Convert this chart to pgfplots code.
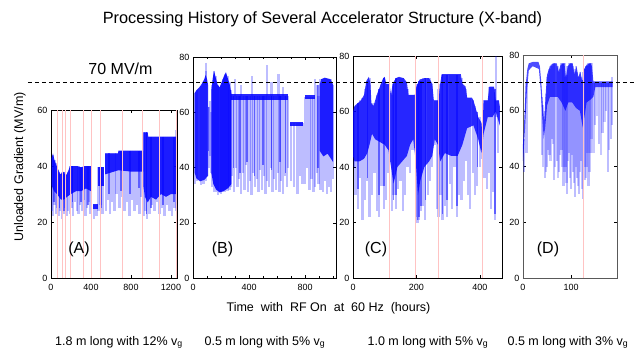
\documentclass[border=0pt]{standalone}
\usepackage{fontspec}
\setmainfont{Liberation Sans}
\usepackage{pgfplots}
\pgfplotsset{compat=1.18}
\definecolor{redline}{RGB}{255,195,195}
\pgfplotsset{
  panel/.style={
    scale only axis, anchor=south west, ymin=0, xmin=0,
    axis line style={black, line width=0.8pt},
    tick style={black, line width=0.5pt},
    major tick length=3pt, minor tick length=2pt,
    tick label style={font=\fontsize{9}{10}\selectfont},
    xticklabel style={yshift=-3pt},
    /pgf/number format/assume math mode=true,
    /pgf/number format/1000 sep={},
  },
  dense/.style={fill=blue, draw=none, fill opacity=#1},
  dense/.default=0.85,
  spk/.style={quiver={u=0, v=\thisrow{b}-\thisrow{t}}, -, draw=blue, line width=2.3pt, draw opacity=#1},
  spk/.default=0.26,
  spkm/.style={quiver={u=0, v=\thisrow{b}-\thisrow{t}}, -, draw=blue, line width=1.5pt, draw opacity=#1},
  spkm/.default=0.5,
  red lines/.style={ycomb, draw=redline, line width=0.6pt, mark=none},
}
\begin{document}
\begin{tikzpicture}
\useasboundingbox (0pt,0pt) rectangle (640pt,349pt);

% ---------------- Panel A ----------------
\begin{axis}[panel, at={(51pt,71pt)}, width=126pt, height=168pt,
  xmax=1260, ymax=60, xtick={0,400,800,1200}, ytick={0,20,40,60}]
\addplot[dense] coordinates {(7,43) (20,44.5) (35,42) (57,40) (75,38.5) (95,37) (120,38) (150,36.5) (175,38.5) (190,40) (260,40) (300,39.5) (340,40) (400,40)
  (400,31) (350,32) (300,31) (250,31) (200,30) (160,29) (130,28) (100,28) (60,30) (30,31) (7,33)} -- cycle;
\addplot[dense] coordinates {(420,26.5) (467,26.5) (467,24.5) (420,24.5)} -- cycle;
\addplot[dense] coordinates {(467,39.5) (533,39.5) (533,33) (467,33)} -- cycle;
\addplot[dense] coordinates {(540,44.5) (670,44.5) (675,45.5) (923,45.5) (923,38) (800,38) (675,38.5) (540,37)} -- cycle;
\addplot[dense] coordinates {(923,52) (967,52) (972,50.5) (1250,50.5) (1257,53) (1257,30) (1200,30) (1150,29) (1100,30) (1050,28) (1000,29) (967,27) (940,29) (923,33)} -- cycle;
\addplot[spkm] table {
x t b
30 42 27
85 37 25
130 38 24
215 40 27
300 39.5 27
370 40 26
505 39.5 25
580 44.5 30
700 45.5 31
790 45.5 30
880 45.5 32
955 52 23
1000 50.5 25
1120 50.5 26
1230 50.5 27
};
\addplot[spk] table {
x t b
10 43 24
22 44 22
35 42 26
48 41 23
62 40 25
78 38 22
92 37 24
108 38 21
125 38 23
140 37 25
158 37 22
172 38 24
190 40 23
205 40 25
222 40 22
240 40 27
258 40 24
275 40 23
292 39.5 26
310 39.5 24
328 40 28
345 40 22
362 40 25
380 40 27
395 40 23
430 26 21
455 26 22
475 39.5 24
495 39.5 26
515 39.5 23
548 44.5 24
570 44.5 28
590 44.5 23
612 44.5 27
635 44.5 24
655 44.5 30
685 45.5 25
710 45.5 29
735 45.5 24
760 45.5 27
785 45.5 22
810 45.5 28
835 45.5 24
860 45.5 26
885 45.5 23
905 45.5 29
930 52 22
945 52 24
960 52 21
985 50.5 23
1010 50.5 26
1035 50.5 24
1060 50.5 27
1085 50.5 23
1110 50.5 25
1135 50.5 22
1160 50.5 26
1185 50.5 24
1210 50.5 22
1235 50.5 25
1255 53 24
};
\addplot[red lines] coordinates {(65,60) (117,60) (140,60) (197,60) (320,60) (405,60) (497,60) (717,60) (917,60) (1082,60) (1252,60)};
\end{axis}

% ---------------- Panel B ----------------
\begin{axis}[panel, at={(193pt,71pt)}, width=143pt, height=221pt,
  xmax=1020, ymax=80, xtick={0,400,800}, minor xtick={100,200,300,500,600,700,900,1000}, ytick={0,20,40,60,80}]
\addplot[dense] coordinates {(12,67) (25,68) (45,69) (65,70.5) (80,72) (90,73.5) (100,72) (107,70) (107,37) (80,35.5) (50,35) (25,36) (12,38)} -- cycle;
\addplot[dense=0.9] coordinates {(131,68) (140,72) (150,75) (160,73) (175,70) (190,69) (205,71) (220,73) (235,74.5) (250,72) (262,70) (273,67)
  (273,34) (250,32.5) (220,31.5) (190,31) (165,32) (145,34) (131,38)} -- cycle;
\addplot[dense] coordinates {(273,66.5) (678,66.5) (678,64.4) (273,64.4)} -- cycle;
\addplot[dense] coordinates {(690,56.6) (785,56.6) (785,55.2) (690,55.2)} -- cycle;
\addplot[dense] coordinates {(797,66.3) (868,66.3) (868,64.8) (797,64.8)} -- cycle;
\addplot[dense] coordinates {(904,70) (915,72) (940,72.5) (980,72) (999,70) (999,42) (960,45) (930,44) (904,46)} -- cycle;
\addplot[spkm] table {
x t b
290 66 40
335 66 38
385 66 42
440 66 37
500 66 41
560 66 39
620 66 42
660 66 38
112 62 46
890 70 40
};
\addplot[spk] table {
x t b
15 67 34
30 68 35
55 69.5 33.5
75 71 34
92 78 70
95 75 35
112 62 40
120 64 44
127 60 38
135 70 33
150 75 31
165 73 31
180 70 30
200 70 30.5
215 72 31
230 74 31
245 73 31.5
260 71 32
270 68 33
280 66 37
292 66 31
305 66 40
318 66 33
330 66 36
342 66 30.5
355 66 38
368 66 32
380 66 41
393 66 31
405 66 35
418 66 30
430 66 38
443 66 33
455 66 36
468 66 31
480 66 39
493 66 32
505 66 37
518 66 30.5
530 66 35
543 66 33
555 66 40
568 66 31
580 66 36
593 66 32
605 66 38
618 66 31
630 66 35
643 66 30.5
655 66 37
668 66 33
676 66 40
300 66 72
340 66 70
420 66 73
530 66 77
560 66 71
610 66 74
640 66 69
700 56 35
720 56 33
745 56 30.5
765 56 37
780 56 34
800 65.5 34
815 65.5 40
830 65.5 32
845 65.5 36
860 65.5 31
872 72 33
885 70 38
895 66 34
910 72 32
925 72 31
940 72.5 35
955 72 30.5
970 72 33
985 72 31
998 70 36
};
\end{axis}

% ---------------- Panel C ----------------
\begin{axis}[panel, at={(353pt,71pt)}, width=149pt, height=222pt,
  xmax=470, ymax=80, xtick={0,200,400}, ytick={0,20,40,60,80}]
\addplot[dense=0.8] coordinates {(0,60) (5,62) (15,63) (25,64) (35,66) (42,71) (50,72.5) (55,70) (58,63) (65,62) (75,66) (85,69) (95,72) (100,72.5) (105,70) (115,70) (120,66) (125,70) (135,72) (145,72.5) (160,72) (170,70.5) (175,66) (195,66) (200,69) (210,71.5) (225,72) (240,72) (250,70) (255,64) (270,64) (275,70) (280,73.5) (340,73.5) (345,70) (355,69) (360,65) (375,65) (380,64) (390,60) (395,58) (405,56) (408,52) (412,64) (425,64) (430,69) (445,69) (450,64) (460,64) (463,62)
 (463,55) (450,60) (440,58) (425,58) (412,52) (405,45) (395,50) (380,55) (360,54) (345,48) (330,44) (310,44) (290,45) (275,42) (268,48) (258,50) (250,44) (240,42) (225,40) (212,35) (205,30) (198,42) (190,50) (180,48) (170,44) (155,42) (140,40) (128,34) (120,40) (112,46) (100,48) (85,49) (70,50) (60,52) (52,48) (45,45) (35,43) (20,42) (5,42) (0,44)} -- cycle;
\addplot[spkm] table {
x t b
15 63 32
45 71 36
82 68 30
97 72 33
128 70 28
136 72 30
203 70 21
208 71 22
214 71 26
228 72 28
270 68 25
282 73 23
297 73 28
328 73 26
392 60 40
448 68 23
};
\addplot[spk] table {
x t b
3 60 40
8 62 30
15 63 25
22 64 36
30 65 21
38 68 28
45 71 35
52 72 22
60 63 30
68 63 38
75 66 24
82 68 22
90 70 33
97 72 25
105 70 28
112 70 38
122 66 24
128 70 30
136 72 25
142 72 32
150 72 35
158 72 24
165 71 30
172 68 40
180 66 38
188 66 46
198 68 22
203 70 20
208 71 21
214 71 24
220 72 26
228 72 21
236 72 30
242 72 35
250 70 40
258 64 48
266 64 25
270 68 22
276 70 30
282 73 21
290 73 26
297 73 22
305 73 34
312 73 25
320 73 40
328 73 22
335 73 30
342 72 28
350 69 35
357 68 42
363 65 30
370 65 25
378 64 38
385 62 30
392 60 33
400 58 40
406 56 43
415 64 36
422 64 32
428 69 38
435 69 25
442 69 31
448 68 21
452 80 58
458 64 45
};
\addplot[red lines] coordinates {(116,80) (197,80) (268,80) (409,80)};
\end{axis}

% ---------------- Panel D ----------------
\begin{axis}[panel, at={(523pt,71pt)}, width=94pt, height=223pt, clip=false,
  axis line style={black!65, line width=0.8pt},
  xmax=195, ymax=80, xtick={0,100}, ytick={0,20,40,60,80}]
\addplot[dense=0.7] coordinates {(0,48) (3,58) (6,70) (9,75) (12,77) (20,77.5) (32,77.5) (35,76) (38,70) (41,62) (44,56) (47,66) (50,73) (54,75) (58,76.5) (65,77) (70,77) (74,74) (78,76.5) (86,77) (89,72) (93,76) (98,77) (103,77) (107,73) (111,76) (115,72) (119,74) (123,70.5) (127,75) (132,76.5) (140,77) (143,76) (146,70.5) (186,70.5)
 (186,68.5) (150,68.5) (146,65) (140,64) (132,63) (124,54) (118,60) (110,61) (102,63) (94,63) (88,60) (80,63) (72,65) (64,65) (56,65) (50,62) (46,54) (43,50) (40,58) (37,67) (33,75) (20,76) (12,74.5) (8,67) (4,53) (0,42)} -- cycle;
\addplot[spk=0.22] table {
x t b
42 62 40
47 66 38
52 73 46
57 76 42
62 77 48
67 77 40
72 76 36
77 75 44
82 77 40
86 77 38
90 73 34
94 76 42
98 77 36
102 77 44
106 74 34
110 76 40
114 72 33
118 74 38
122 71 32
126 75 40
130 76 36
134 76 45
138 77 38
142 77 50
146 70 45
154 70 58
162 70 44
169 70 56
179 70 46
};
\addplot[spk] table {
x t b
2 50 38
7 70 45
40 65 44
45 60 36
50 72 40
55 75 44
60 76 50
65 77 35
70 76 42
75 74 38
80 77 46
84 77 33
88 72 40
92 76 30
96 77 45
100 77 32
104 76 38
108 75 29
112 74 36
116 72 30
120 72 42
124 74 28.5
128 75 35
132 76 40
136 77 33
140 77 45
150 70 55
158 70 48
165 70 52
172 70 60
176 70 38
182 70 50
185 72 55
};
\addplot[red lines] coordinates {(124.5,80)};
\draw[black, line width=0.8pt, dash pattern=on 4pt off 3pt] (axis cs:-1027,70) -- (axis cs:234,70);
\end{axis}

% ---------------- Texts ----------------
\node[anchor=base, font=\fontsize{16.3}{18}\selectfont] at (322.5pt,325.7pt) {Processing History of Several Accelerator Structure (X-band)};
\node[anchor=base, font=\fontsize{16}{18}\selectfont] at (120.5pt,275pt) {70 MV/m};
\node[rotate=90, font=\fontsize{12.5}{14}\selectfont] at (20pt,182pt) {Unloaded Gradient (MV/m)};
\node[anchor=base, font=\fontsize{12.5}{14}\selectfont] at (328.5pt,37.3pt) {Time\ \ with\ \ RF On\ \ at\ \ 60 Hz\ \ (hours)};
\foreach \lab/\xx in {A/79, B/222.5, C/376, D/548}
  \node[font=\fontsize{16}{18}\selectfont] at (\xx pt,100pt) {(\lab)};
\node[anchor=base, font=\fontsize{12.5}{14}\selectfont] at (119pt,4pt) {1.8 m long with 12\% v\textsubscript{g}};
\node[anchor=base, font=\fontsize{12.5}{14}\selectfont] at (265pt,4pt) {0.5 m long with 5\% v\textsubscript{g}};
\node[anchor=base, font=\fontsize{12.5}{14}\selectfont] at (428pt,4pt) {1.0 m long with 5\% v\textsubscript{g}};
\node[anchor=base, font=\fontsize{12.5}{14}\selectfont] at (568pt,4pt) {0.5 m long with 3\% v\textsubscript{g}};
\end{tikzpicture}
\end{document}
